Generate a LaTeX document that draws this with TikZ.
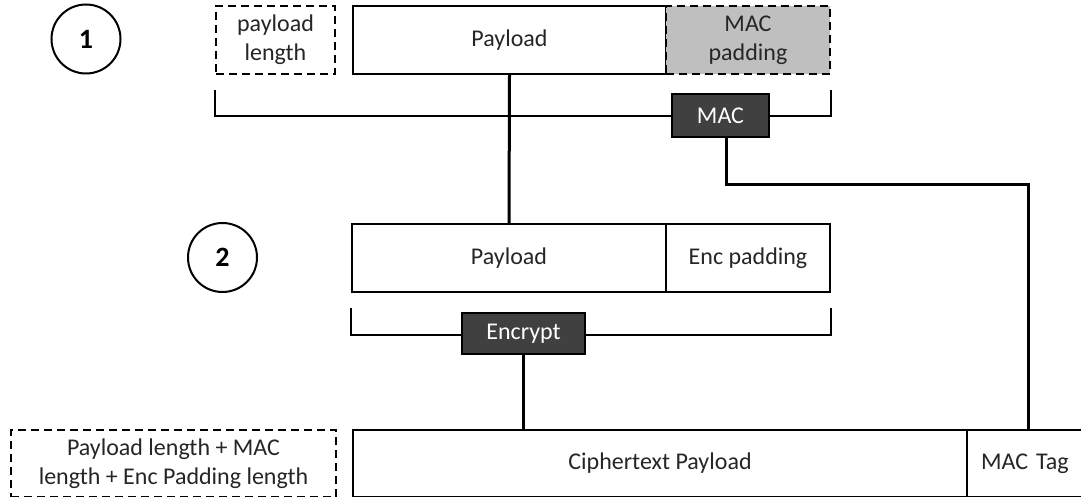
\documentclass[tikz,border=0pt]{standalone}
\usepackage{fontspec}
\setmainfont{Carlito}
\usetikzlibrary{calc}
\definecolor{txt}{HTML}{262626}
\definecolor{darkbox}{HTML}{404040}
\definecolor{padgray}{HTML}{BFBFBF}
\begin{document}
\begin{tikzpicture}[x=1pt,y=-1pt,
  every node/.style={font=\fontsize{24}{29}\selectfont, text=txt, align=center},
  box/.style={draw=black, line width=2pt, fill=white, anchor=north west, inner sep=0pt},
  dbox/.style={box, dash pattern=on 8pt off 5pt},
  opbox/.style={draw=black, line width=2pt, fill=darkbox, text=white, inner sep=0pt, anchor=north west},
  stepnum/.style={circle, draw=black, line width=2pt, minimum size=69pt, inner sep=0pt, font=\fontsize{28}{30}\selectfont\bfseries, text=black},
  brack/.style={draw=black, line width=2pt},
  link/.style={draw=black, line width=3pt}
]
\useasboundingbox (0,0) rectangle (1081,497);
\begin{scope}
\clip (0,0) rectangle (1081,497);
% step 1
\node[stepnum] (c1) at (86,39) {1};
\node[dbox, minimum width=119pt, minimum height=68pt] (plen) at (215,5) {payload\\length};
\node[box, minimum width=313pt, minimum height=68pt] (pay1) at (352,5) {Payload};
\node[dbox, fill=padgray, minimum width=164pt, minimum height=68pt] (macpad) at (665,5) {MAC\\padding};
\draw[brack] ($(plen.south west)+(0,15)$) -- ($(plen.south west)+(0,41)$) -- ($(macpad.south east)+(0,41)$) -- ($(macpad.south east)+(0,15)$);
% step 2
\node[stepnum] (c2) at (222.5,257.5) {2};
\node[box, minimum width=314pt, minimum height=68pt] (pay2) at (351,223) {Payload};
\node[box, minimum width=164pt, minimum height=68pt] (encpad) at (665,223) {Enc padding};
\draw[brack] ($(pay2.south west)+(0,15)$) -- ($(pay2.south west)+(0,42)$) -- ($(encpad.south east)+(0,42)$) -- ($(encpad.south east)+(0,15)$);
% result
\node[dbox, minimum width=325pt, minimum height=67pt] (total) at (10,429) {Payload length + MAC\\length + Enc Padding length};
\node[box, minimum width=614pt, minimum height=67pt] (cipher) at (352,429) {Ciphertext Payload};
\node[box, minimum width=122pt, minimum height=67pt, text width=122pt, align=left] (mactag) at (966,429) {\hspace*{14pt}MAC Tag};
% connectors
\draw[link] (pay1.south) -- (pay2.north);
\node[opbox, minimum width=97pt, minimum height=43pt] (mac) at (671,93) {MAC};
\node[opbox, minimum width=123pt, minimum height=41pt] (enc) at (461,312) {Encrypt};
\draw[link] ([xshift=5.5pt]mac.south) -- ++(0,47) -| (mactag.north);
\draw[link] (enc.south) -- (enc.south |- cipher.north);
\end{scope}
\end{tikzpicture}
\end{document}
